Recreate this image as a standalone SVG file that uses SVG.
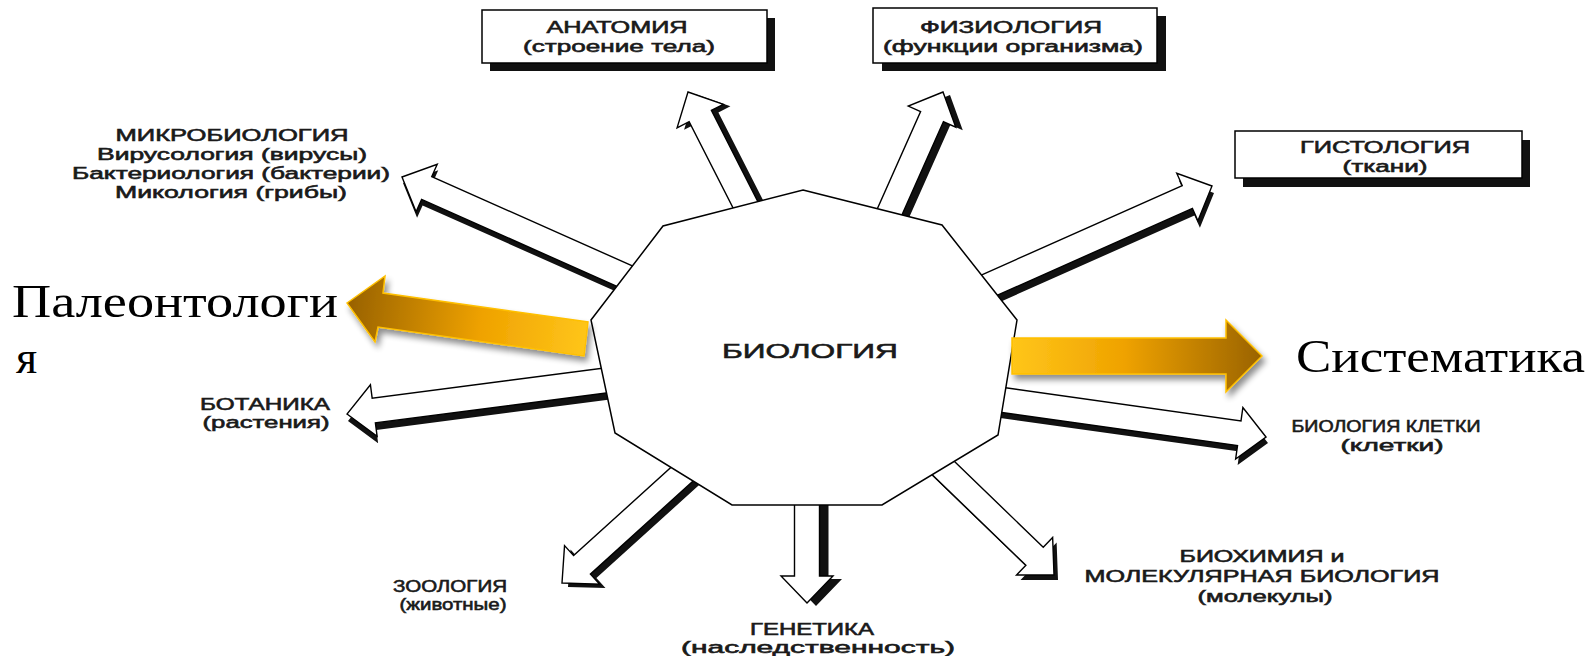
<svg xmlns="http://www.w3.org/2000/svg" width="1590" height="656" viewBox="0 0 1590 656">
<defs>
<style>
.arr{fill:#fff;stroke:#000;stroke-width:1.4;stroke-linejoin:miter}
.shd{fill:#111}
.box{fill:#fff;stroke:#000;stroke-width:1.5}
.boxshd{fill:#111}
.lbl{font-family:"Liberation Sans",Arial,sans-serif;font-size:17px;fill:#1a1a1a;stroke:#1a1a1a;stroke-width:0.6;text-anchor:middle}
.big{font-family:"Liberation Serif","Times New Roman",serif;font-size:46px;fill:#000}
.orange{stroke:#FFC000;stroke-width:1.5;stroke-linejoin:miter}
</style>
<linearGradient id="gPaleo" gradientUnits="userSpaceOnUse" x1="350" y1="310" x2="588" y2="340">
<stop offset="0" stop-color="#9A6300"/>
<stop offset="0.55" stop-color="#EFA200"/>
<stop offset="1" stop-color="#FFC61A"/>
</linearGradient>
<linearGradient id="gSyst" gradientUnits="userSpaceOnUse" x1="1012" y1="356" x2="1262" y2="356">
<stop offset="0" stop-color="#FFC61A"/>
<stop offset="0.45" stop-color="#EFA200"/>
<stop offset="1" stop-color="#9A6300"/>
</linearGradient>
<filter id="soft" x="-20%" y="-40%" width="140%" height="180%">
<feGaussianBlur in="SourceAlpha" stdDeviation="3"/>
<feOffset dx="3" dy="5" result="b"/>
<feComponentTransfer><feFuncA type="linear" slope="0.45"/></feComponentTransfer>
<feMerge><feMergeNode/><feMergeNode in="SourceGraphic"/></feMerge>
</filter>
</defs>
<rect width="1590" height="656" fill="#fff"/>

<g id="connectors">
  <!-- anatomy -->
  <path class="shd" transform="translate(695,94) rotate(-117)" d="M0,0 L-27,-26 L-27,-12.5 L-240,-12.5 L-240,12.5 L-27,12.5 L-27,26 Z"/>
  <path class="arr" transform="translate(688,92) rotate(-117)" d="M0,0 L-27,-26 L-27,-12.5 L-240,-12.5 L-240,12.5 L-27,12.5 L-27,26 Z"/>
  <!-- physiology -->
  <path class="shd" transform="translate(950,95) rotate(-66)" d="M0,0 L-27,-26 L-27,-12.5 L-250,-12.5 L-250,12.5 L-27,12.5 L-27,26 Z"/>
  <path class="arr" transform="translate(943,92) rotate(-66)" d="M0,0 L-27,-26 L-27,-12.5 L-250,-12.5 L-250,12.5 L-27,12.5 L-27,26 Z"/>
  <!-- histology -->
  <path class="shd" transform="translate(1214,193) rotate(-24)" d="M0,0 L-27,-26 L-27,-12.5 L-400,-12.5 L-400,12.5 L-27,12.5 L-27,26 Z"/>
  <path class="arr" transform="translate(1212,186) rotate(-24)" d="M0,0 L-27,-26 L-27,-12.5 L-400,-12.5 L-400,12.5 L-27,12.5 L-27,26 Z"/>
  <!-- microbiology -->
  <path class="shd" transform="translate(403,183) rotate(-156)" d="M0,0 L-27,-26 L-27,-12.5 L-400,-12.5 L-400,12.5 L-27,12.5 L-27,26 Z"/>
  <path class="arr" transform="translate(402,177) rotate(-156)" d="M0,0 L-27,-26 L-27,-12.5 L-400,-12.5 L-400,12.5 L-27,12.5 L-27,26 Z"/>
  <!-- botany -->
  <path class="shd" transform="translate(348,421) rotate(172.6)" d="M0,0 L-27,-26 L-27,-12.5 L-420,-12.5 L-420,12.5 L-27,12.5 L-27,26 Z"/>
  <path class="arr" transform="translate(347,414) rotate(172.6)" d="M0,0 L-27,-26 L-27,-12.5 L-420,-12.5 L-420,12.5 L-27,12.5 L-27,26 Z"/>
  <!-- zoology -->
  <path class="shd" transform="translate(568,587) rotate(137.8)" d="M0,0 L-27,-26 L-27,-12.5 L-290,-12.5 L-290,12.5 L-27,12.5 L-27,26 Z"/>
  <path class="arr" transform="translate(562,583) rotate(137.8)" d="M0,0 L-27,-26 L-27,-12.5 L-290,-12.5 L-290,12.5 L-27,12.5 L-27,26 Z"/>
  <!-- genetics -->
  <path class="shd" transform="translate(816,606) rotate(90)" d="M0,0 L-27,-26 L-27,-12.5 L-220,-12.5 L-220,12.5 L-27,12.5 L-27,26 Z"/>
  <path class="arr" transform="translate(807,603) rotate(90)" d="M0,0 L-27,-26 L-27,-12.5 L-220,-12.5 L-220,12.5 L-27,12.5 L-27,26 Z"/>
  <!-- biochemistry -->
  <path class="shd" transform="translate(1058,580) rotate(44)" d="M0,0 L-27,-26 L-27,-12.5 L-300,-12.5 L-300,12.5 L-27,12.5 L-27,26 Z"/>
  <path class="arr" transform="translate(1054,575) rotate(44)" d="M0,0 L-27,-26 L-27,-12.5 L-300,-12.5 L-300,12.5 L-27,12.5 L-27,26 Z"/>
  <!-- cell biology -->
  <path class="shd" transform="translate(1268,443) rotate(8)" d="M0,0 L-27,-26 L-27,-12.5 L-430,-12.5 L-430,12.5 L-27,12.5 L-27,26 Z"/>
  <path class="arr" transform="translate(1266,437) rotate(8)" d="M0,0 L-27,-26 L-27,-12.5 L-430,-12.5 L-430,12.5 L-27,12.5 L-27,26 Z"/>
</g>

<g id="biology">
  <polygon points="803,190 942,225 1017,320 998,435 882,505 732,505 615,433 591,320 663,226" fill="#fff" stroke="#000" stroke-width="1.5"/>
  <text class="lbl" x="810" y="358" style="font-size:21px" textLength="176" lengthAdjust="spacingAndGlyphs">БИОЛОГИЯ</text>
</g>

<g id="paleo-arrow" filter="url(#soft)">
  <polygon class="orange" fill="url(#gPaleo)" points="347,303 385,276 383,293 588,322 584,356 378,327 375,342"/>
</g>
<g id="syst-arrow" filter="url(#soft)">
  <polygon class="orange" fill="url(#gSyst)" points="1012,338 1226,338 1226,320 1262,356 1226,392 1226,374 1012,374"/>
</g>

<g id="anatomy">
  <rect class="boxshd" x="490" y="18" width="285" height="53"/>
  <rect class="box" x="482" y="10" width="285" height="53"/>
  <text class="lbl" x="617" y="33" textLength="141" lengthAdjust="spacingAndGlyphs">АНАТОМИЯ</text>
  <text class="lbl" x="619" y="52" textLength="192" lengthAdjust="spacingAndGlyphs">(строение тела)</text>
</g>
<g id="physiology">
  <rect class="boxshd" x="882" y="16" width="284" height="55"/>
  <rect class="box" x="873" y="8" width="284" height="55"/>
  <text class="lbl" x="1011" y="33" textLength="182" lengthAdjust="spacingAndGlyphs">ФИЗИОЛОГИЯ</text>
  <text class="lbl" x="1013" y="52" textLength="260" lengthAdjust="spacingAndGlyphs">(функции организма)</text>
</g>
<g id="histology">
  <rect class="boxshd" x="1243" y="140" width="287" height="47"/>
  <rect class="box" x="1235" y="131" width="287" height="47"/>
  <text class="lbl" x="1385" y="153" textLength="170" lengthAdjust="spacingAndGlyphs">ГИСТОЛОГИЯ</text>
  <text class="lbl" x="1385" y="172" textLength="85" lengthAdjust="spacingAndGlyphs">(ткани)</text>
</g>
<g id="microbiology">
  <text class="lbl" x="232" y="141" textLength="233" lengthAdjust="spacingAndGlyphs">МИКРОБИОЛОГИЯ</text>
  <text class="lbl" x="232" y="160" textLength="270" lengthAdjust="spacingAndGlyphs">Вирусология (вирусы)</text>
  <text class="lbl" x="231" y="179" textLength="318" lengthAdjust="spacingAndGlyphs">Бактериология (бактерии)</text>
  <text class="lbl" x="231" y="198" textLength="232" lengthAdjust="spacingAndGlyphs">Микология (грибы)</text>
</g>
<g id="paleontology">
  <text class="big" x="12" y="317" textLength="326" lengthAdjust="spacingAndGlyphs">Палеонтологи</text>
  <text class="big" x="16" y="373">я</text>
</g>
<g id="systematics">
  <text class="big" x="1296" y="372" textLength="289" lengthAdjust="spacingAndGlyphs">Систематика</text>
</g>
<g id="botany">
  <text class="lbl" x="265" y="410" textLength="130" lengthAdjust="spacingAndGlyphs">БОТАНИКА</text>
  <text class="lbl" x="266" y="428" textLength="127" lengthAdjust="spacingAndGlyphs">(растения)</text>
</g>
<g id="zoology">
  <text class="lbl" x="450" y="592" textLength="114" lengthAdjust="spacingAndGlyphs">ЗООЛОГИЯ</text>
  <text class="lbl" x="453" y="610" textLength="107" lengthAdjust="spacingAndGlyphs">(животные)</text>
</g>
<g id="genetics">
  <text class="lbl" x="812" y="635" textLength="124" lengthAdjust="spacingAndGlyphs">ГЕНЕТИКА</text>
  <text class="lbl" x="818" y="653" textLength="274" lengthAdjust="spacingAndGlyphs">(наследственность)</text>
</g>
<g id="biochemistry">
  <text class="lbl" x="1262" y="562" textLength="165" lengthAdjust="spacingAndGlyphs">БИОХИМИЯ и</text>
  <text class="lbl" x="1262" y="582" textLength="355" lengthAdjust="spacingAndGlyphs">МОЛЕКУЛЯРНАЯ БИОЛОГИЯ</text>
  <text class="lbl" x="1265" y="602" textLength="135" lengthAdjust="spacingAndGlyphs">(молекулы)</text>
</g>
<g id="cellbiology">
  <text class="lbl" x="1386" y="432" textLength="189" lengthAdjust="spacingAndGlyphs">БИОЛОГИЯ КЛЕТКИ</text>
  <text class="lbl" x="1392" y="451" textLength="103" lengthAdjust="spacingAndGlyphs">(клетки)</text>
</g>
</svg>
